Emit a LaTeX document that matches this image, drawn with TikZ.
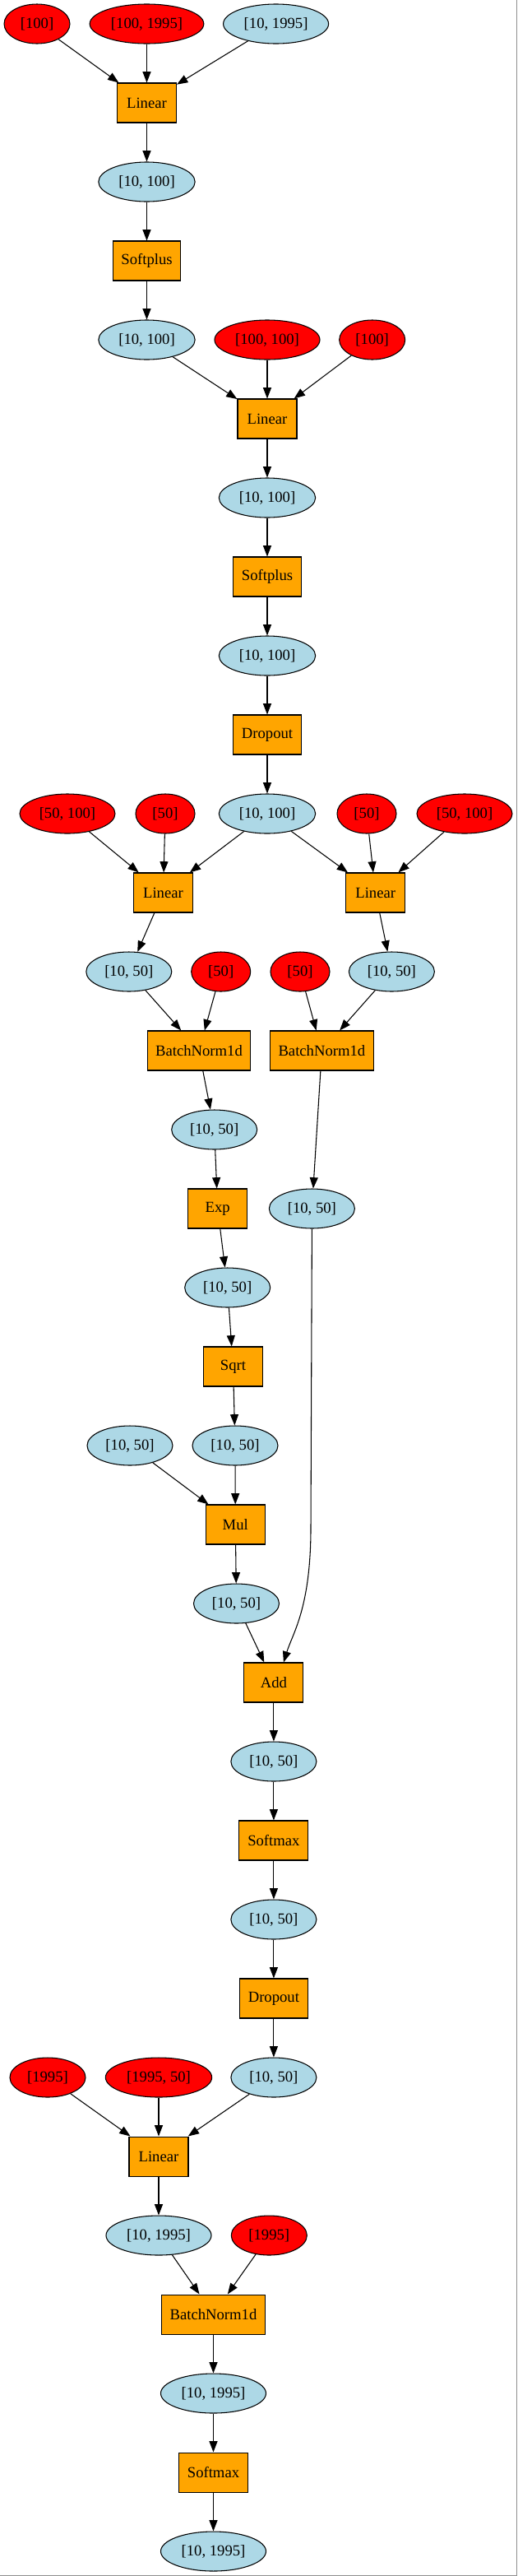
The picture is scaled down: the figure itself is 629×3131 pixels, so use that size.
\documentclass[tikz,border=0pt]{standalone}
\usepackage{fontspec}
\setmainfont{Liberation Serif}
\usetikzlibrary{shapes.geometric,arrows.meta}
\definecolor{gvred}{HTML}{FF0000}
\definecolor{gvblue}{HTML}{ADD8E6}
\definecolor{gvorange}{HTML}{FFA500}
\definecolor{gvframe}{HTML}{909090}
\tikzset{
  base/.style={draw=black, line width=0.8pt, inner sep=0pt, minimum height=36pt,
    font=\fontsize{14}{16}\selectfont, text=black},
  tens/.style={base, ellipse, fill=gvblue, minimum width=#1},
  tens/.default=78pt,
  param/.style={base, ellipse, fill=gvred, minimum width=#1},
  param/.default=54pt,
  opbox/.style={base, rectangle, fill=gvorange, minimum width=#1},
  opbox/.default=54pt,
  arr/.style={draw=black, line width=0.8pt, -{Triangle[length=10pt,width=7.5pt]}},
  frame/.style={draw=gvframe, line width=0.9pt}
}
\begin{document}
\begin{tikzpicture}[x=0.75pt, y=-0.75pt]
\useasboundingbox (0,0) rectangle (629,3131);
\coordinate (fr1) at (628.4,0);
\coordinate (fr2) at (628.4,3130.4);
\coordinate (fr3) at (0,3130.4);
\draw[frame] (fr1) -- (fr2) -- (fr3);

% row 0
\node[param=60pt] (p1) at (45,29) {[100]};
\node[param=104pt] (p2) at (178.5,29) {[100, 1995]};
\node[tens=96pt] (in) at (335.6,29) {[10, 1995]};
\node[opbox] (lin1) at (178.5,125) {Linear};
\node[tens=88pt] (t1) at (178.5,221) {[10, 100]};
\node[opbox=62pt] (sp1) at (178.5,317) {Softplus};
\node[tens=88pt] (t2) at (178.5,413) {[10, 100]};
\node[param=96pt] (p3) at (325,413) {[100, 100]};
\node[param=60pt] (p4) at (452.7,413) {[100]};
\node[opbox] (lin2) at (325,509) {Linear};
\node[tens=88pt] (t3) at (325,605) {[10, 100]};
\node[opbox=62pt] (sp2) at (325,701) {Softplus};
\node[tens=88pt] (t4) at (325,797) {[10, 100]};
\node[opbox=62pt] (do1) at (325,893) {Dropout};
\node[tens=88pt] (t5) at (325,989) {[10, 100]};
\node[param=87pt] (p5) at (82,989) {[50, 100]};
\node[param] (p6) at (201,989) {[50]};
\node[param] (p7) at (446,989) {[50]};
\node[param=87pt] (p8) at (565,989) {[50, 100]};
\node[opbox] (lin3) at (198.5,1085) {Linear};
\node[opbox] (lin4) at (456.7,1085) {Linear};
\node[tens] (t6) at (156.8,1181) {[10, 50]};
\node[param] (p9) at (268.7,1181) {[50]};
\node[param] (p10) at (365,1181) {[50]};
\node[tens] (t7) at (476.4,1181) {[10, 50]};
\node[opbox=94pt] (bn1) at (242,1277) {BatchNorm1d};
\node[opbox=94pt] (bn2) at (391.4,1277) {BatchNorm1d};
\node[tens] (t8) at (260.7,1373) {[10, 50]};
\node[opbox] (exp) at (264.7,1469) {Exp};
\node[tens] (t9) at (379.4,1469) {[10, 50]};
\node[tens] (t10) at (276.7,1565) {[10, 50]};
\node[opbox] (sqrt) at (283.5,1661) {Sqrt};
\node[tens] (t11) at (158,1757) {[10, 50]};
\node[tens] (t12) at (286,1757) {[10, 50]};
\node[opbox] (mul) at (286.3,1853) {Mul};
\node[tens] (t13) at (287.5,1949) {[10, 50]};
\node[opbox] (add) at (332.9,2045) {Add};
\node[tens] (t14) at (332.9,2141) {[10, 50]};
\node[opbox=63pt] (sm1) at (332.9,2237) {Softmax};
\node[tens] (t15) at (332.9,2333) {[10, 50]};
\node[opbox=62pt] (do2) at (332.9,2429) {Dropout};
\node[tens] (t16) at (332.9,2525) {[10, 50]};
\node[param=69pt] (p11) at (58,2525) {[1995]};
\node[param=97pt] (p12) at (193,2525) {[1995, 50]};
\node[opbox] (lin5) at (193,2621) {Linear};
\node[tens=96pt] (t17) at (193,2717) {[10, 1995]};
\node[param=69pt] (p13) at (327.3,2717) {[1995]};
\node[opbox=94pt] (bn3) at (259.5,2813) {BatchNorm1d};
\node[tens=96pt] (t18) at (259.5,2909) {[10, 1995]};
\node[opbox=63pt] (sm2) at (259.5,3005) {Softmax};
\node[tens=96pt] (t19) at (259.5,3101) {[10, 1995]};

% edges
\draw[arr] (p1) -- (lin1);
\draw[arr] (p2) -- (lin1);
\draw[arr] (in) -- (lin1);
\draw[arr] (lin1) -- (t1);
\draw[arr] (t1) -- (sp1);
\draw[arr] (sp1) -- (t2);
\draw[arr] (t2) -- (lin2);
\draw[arr] (p3) -- (lin2);
\draw[arr] (p4) -- (lin2);
\draw[arr] (lin2) -- (t3);
\draw[arr] (t3) -- (sp2);
\draw[arr] (sp2) -- (t4);
\draw[arr] (t4) -- (do1);
\draw[arr] (do1) -- (t5);
\draw[arr] (p5) -- (lin3);
\draw[arr] (p6) -- (lin3);
\draw[arr] (t5) -- (lin3);
\draw[arr] (t5) -- (lin4);
\draw[arr] (p7) -- (lin4);
\draw[arr] (p8) -- (lin4);
\draw[arr] (lin3) -- (t6);
\draw[arr] (lin4) -- (t7);
\draw[arr] (t6) -- (bn1);
\draw[arr] (p9) -- (bn1);
\draw[arr] (p10) -- (bn2);
\draw[arr] (t7) -- (bn2);
\draw[arr] (bn1) -- (t8);
\draw[arr] (bn2) -- (t9);
\draw[arr] (t8) -- (exp);
\draw[arr] (exp) -- (t10);
\draw[arr] (t10) -- (sqrt);
\draw[arr] (sqrt) -- (t12);
\draw[arr] (t11) -- (mul);
\draw[arr] (t12) -- (mul);
\draw[arr] (mul) -- (t13);
\draw[arr] (t13) -- (add);
\coordinate (t9bend) at (378,1860);
\draw[arr] (t9.south) -- (t9bend) .. controls (377.5,1955) and (356,1985) .. ([xshift=9pt]add.north);
\draw[arr] (add) -- (t14);
\draw[arr] (t14) -- (sm1);
\draw[arr] (sm1) -- (t15);
\draw[arr] (t15) -- (do2);
\draw[arr] (do2) -- (t16);
\draw[arr] (p11) -- (lin5);
\draw[arr] (p12) -- (lin5);
\draw[arr] (t16) -- (lin5);
\draw[arr] (lin5) -- (t17);
\draw[arr] (t17) -- (bn3);
\draw[arr] (p13) -- (bn3);
\draw[arr] (bn3) -- (t18);
\draw[arr] (t18) -- (sm2);
\draw[arr] (sm2) -- (t19);
\end{tikzpicture}
\end{document}
